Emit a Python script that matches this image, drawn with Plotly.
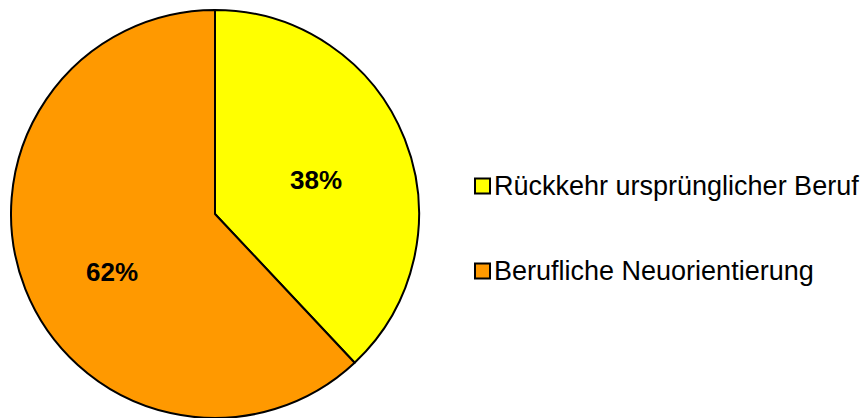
import plotly.graph_objects as go

labels = ["Rückkehr ursprünglicher Beruf", "Berufliche Neuorientierung"]
values = [38, 62]
colors = ["#FFFF00", "#FF9900"]

W, H = 862, 418
cx, cy, R = 215, 214, 204  # pixel centre / radius of pie
label_px = [(316, 180), (112, 272)]  # pixel positions of percent labels

fig = go.Figure(go.Pie(
    labels=labels, values=values, sort=False, direction="clockwise", rotation=0,
    marker=dict(colors=colors, line=dict(color="black", width=2)),
    textinfo="none", hoverinfo="label+percent", showlegend=False,
    domain=dict(x=[(cx - R) / W, (cx + R) / W], y=[max(0, (H - cy - R) / H), (H - cy + R) / H]),
))

annotations = []
shapes = []
total = sum(values)
for i, v in enumerate(values):
    px, py = label_px[i]
    annotations.append(dict(
        x=px / W, y=1 - py / H, xref="paper", yref="paper", showarrow=False,
        text=f"<b>{round(v / total * 100)}%</b>",
        font=dict(family="Arial, Liberation Sans", size=26, color="black"),
        xanchor="center", yanchor="middle"))

leg_y = [186, 271]
for i, lab in enumerate(labels):
    y = leg_y[i]
    shapes.append(dict(type="rect", xref="paper", yref="paper",
                       x0=475 / W, x1=490 / W, y0=1 - (y - 7.5) / H, y1=1 - (y + 7.5) / H,
                       fillcolor=colors[i], line=dict(color="black", width=2)))
    annotations.append(dict(
        x=492 / W, y=1 - y / H, xref="paper", yref="paper", showarrow=False,
        text=lab, font=dict(family="Arial, Liberation Sans", size=27, color="black"),
        xanchor="left", yanchor="middle"))

fig.update_layout(
    width=W, height=H, margin=dict(l=0, r=0, t=0, b=0),
    paper_bgcolor="white", plot_bgcolor="white",
    annotations=annotations, shapes=shapes,
)
fig.write_html("out.html", config={"displayModeBar": False},
               post_script="document.body.style.margin='0';document.body.style.overflow='hidden';")
